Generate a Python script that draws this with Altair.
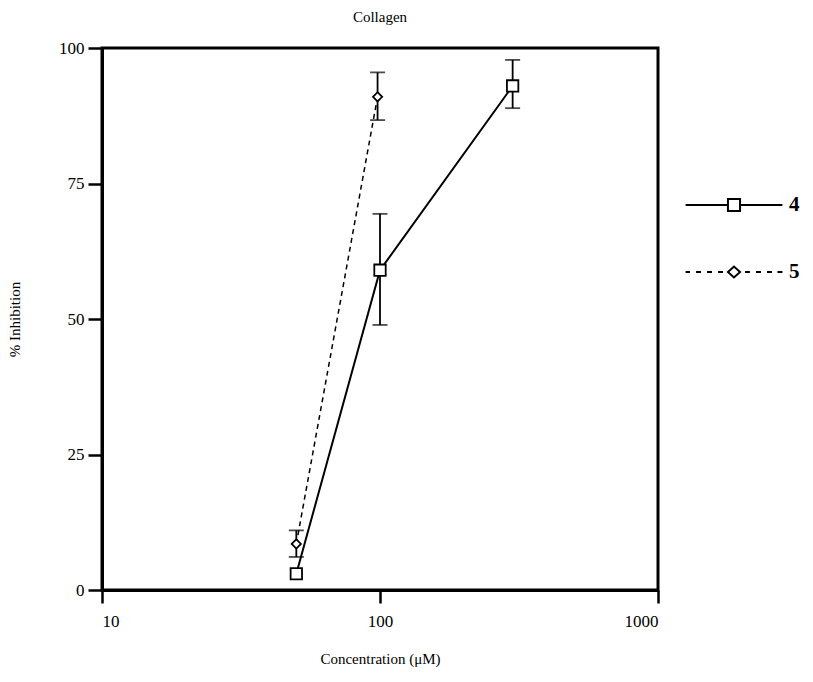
import altair as alt
import pandas as pd

# ---- data ----
series = ["4", "5"]

conc4 = [50, 100, 300]
inh4 = [3.0, 59.0, 93.0]
err4_conc = [100, 300]
err4_lo = [48.9, 88.9]
err4_hi = [69.4, 97.8]

conc5 = [50, 98]
inh5 = [8.5, 91.0]
err5_conc = [50, 98]
err5_lo = [6.1, 86.7]
err5_hi = [11.0, 95.5]

x_ticks = [10, 100, 1000]
y_ticks = [0, 25, 50, 75, 100]

FONT = "Liberation Serif"

lines_df = pd.DataFrame({
    "series": ["4"] * len(conc4) + ["5"] * len(conc5),
    "conc": conc4 + conc5,
    "inh": inh4 + inh5,
})
err_df = pd.DataFrame({
    "series": ["4"] * len(err4_conc) + ["5"] * len(err5_conc),
    "conc": err4_conc + err5_conc,
    "lo": err4_lo + err5_lo,
    "hi": err4_hi + err5_hi,
})
caps_df = pd.DataFrame({
    "conc": err4_conc + err5_conc + err4_conc + err5_conc,
    "val": err4_lo + err5_lo + err4_hi + err5_hi,
})

xscale = alt.Scale(type="log", domain=[10, 1000], nice=False)
yscale = alt.Scale(domain=[0, 100], nice=False, zero=False)

xenc = alt.X("conc:Q", scale=xscale,
             axis=alt.Axis(values=x_ticks, format="d", title="Concentration (μM)",
                           tickSize=13, labelPadding=10, titlePadding=22))
yenc = alt.Y("inh:Q", scale=yscale,
             axis=alt.Axis(values=y_ticks, title="% Inhibition",
                           tickSize=14, labelPadding=4, titlePadding=36))

base = alt.Chart(lines_df)
s4 = base.transform_filter(alt.datum.series == "4")
s5 = base.transform_filter(alt.datum.series == "5")

line4 = s4.mark_line(color="black", strokeWidth=2).encode(x=xenc, y=yenc)
line5 = s5.mark_line(color="black", strokeWidth=1.5, strokeDash=[5, 4]).encode(x="conc:Q", y="inh:Q")

rules = alt.Chart(err_df).mark_rule(color="black", strokeWidth=1.8).encode(
    x="conc:Q", y="lo:Q", y2="hi:Q"
)
caps = alt.Chart(caps_df).mark_tick(color="black", orient="horizontal", size=15, thickness=1.8).encode(
    x="conc:Q", y="val:Q"
)

squares = s4.mark_point(
    shape="square", size=130, filled=True, fill="white", stroke="black", strokeWidth=1.8, opacity=1
).encode(x="conc:Q", y="inh:Q")

diamonds = s5.mark_point(
    shape="diamond", size=85, filled=True, fill="white", stroke="black", strokeWidth=1.8, opacity=1
).encode(x="conc:Q", y="inh:Q")

# legend symbols: line + marker drawn as custom paths
sq_path = ("M-4.4,0H-0.55M0.55,0H4.4"
           "M-0.55,-0.55H0.55V0.55H-0.55Z")
dash_parts = []
for a, b in [(-4.4, -4.0), (-3.45, -3.0), (-2.45, -2.0), (-1.45, -1.0),
             (1.0, 1.45), (2.0, 2.45), (3.0, 3.45), (3.95, 4.4)]:
    dash_parts.append(f"M{a},0H{b}")
di_path = "".join(dash_parts) + "M-0.55,0L0,-0.5L0.55,0L0,0.5Z"

legend_layer = base.mark_point(filled=False, color="black", size=0, opacity=1).encode(
    x="conc:Q", y="inh:Q",
    shape=alt.Shape(
        "series:N",
        scale=alt.Scale(domain=series, range=[sq_path, di_path]),
        legend=alt.Legend(
            title=None, orient="none", legendX=620, legendY=145, padding=0,
            symbolSize=484, symbolStrokeWidth=2, symbolStrokeColor="black", symbolOpacity=1,
            symbolFillColor="transparent", labelFont=FONT, labelFontSize=21,
            labelFontWeight="bold", labelColor="black", labelOffset=43, rowPadding=44,
        ),
    )
)

chart = alt.layer(rules, caps, line4, line5, squares, diamonds, legend_layer).properties(
    width=556, height=542,
    title=alt.TitleParams("Collagen", font=FONT, fontSize=15, fontWeight="normal",
                          color="black", offset=14, anchor="middle"),
    autosize=alt.AutoSizeParams(type="none"),
    padding={"left": 94, "top": 40, "right": 147, "bottom": 84},
).configure_view(
    stroke="black", strokeWidth=3
).configure_axis(
    grid=False, domainColor="black", domainWidth=3, tickColor="black", tickWidth=2.5,
    labelFont=FONT, labelFontSize=17, labelColor="black",
    titleFont=FONT, titleFontSize=15, titleFontWeight="normal", titleColor="black",
)

chart.save("out.html", embed_options={"renderer": "svg", "actions": False})
